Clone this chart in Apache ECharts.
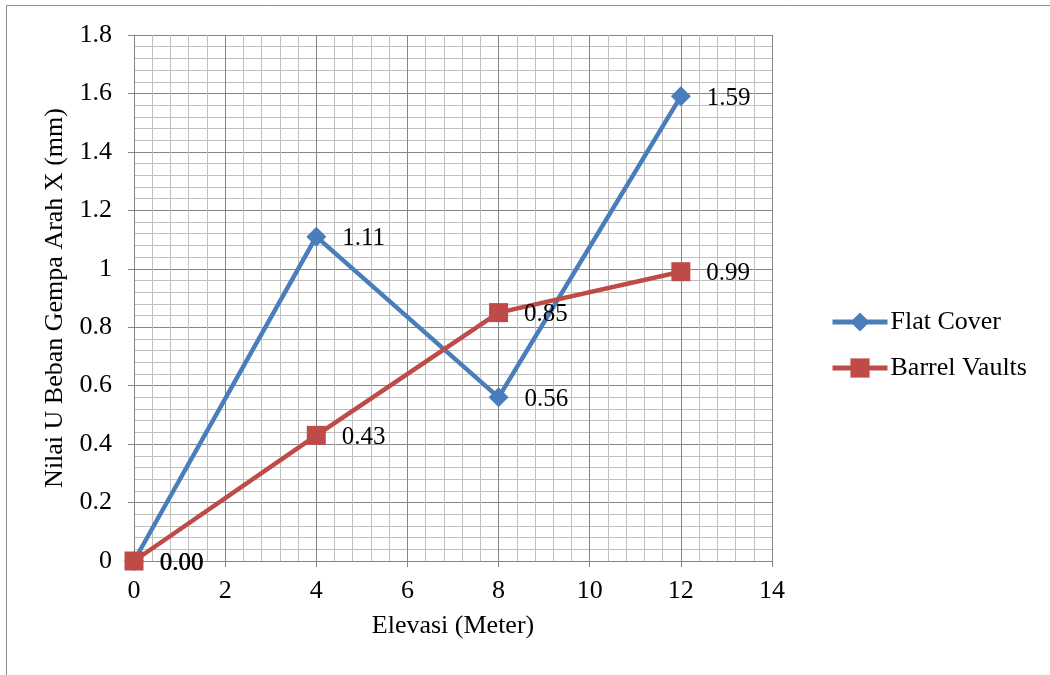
<!DOCTYPE html>
<html>
<head>
<meta charset="utf-8">
<script src="https://cdn.jsdelivr.net/npm/echarts@6/dist/echarts.min.js"></script>
<style>
  html, body { margin: 0; padding: 0; background: #fff; }
  #chart { width: 1050px; height: 675px; }
</style>
</head>
<body>
<div id="chart"></div>
<script>
// Elevation (m) and lateral displacement under X-direction seismic load (mm)
const elevations = [0, 4, 8, 12];
const flatCover = [0.00, 1.11, 0.56, 1.59];
const barrelVaults = [0.00, 0.43, 0.85, 0.99];
const seriesNames = ['Flat Cover', 'Barrel Vaults'];

const font = 'Liberation Serif, Times New Roman, serif';
const pairs = (xs, ys) => xs.map((x, i) => [x, ys[i]]);

const valueLabel = {
  show: true, position: 'right', distance: 16, offset: [0, 2],
  fontFamily: font, fontSize: 25, color: '#000',
  formatter: p => p.value[1].toFixed(2)
};

const chart = echarts.init(document.getElementById('chart'));
chart.setOption({
  animation: false,
  backgroundColor: '#ffffff',
  textStyle: { fontFamily: font },
  graphic: [{
    type: 'rect',
    shape: { x: 6.5, y: 5.5, width: 1100, height: 700 },
    style: { fill: 'none', stroke: '#8c8c8c', lineWidth: 1 },
    silent: true
  }],
  grid: { left: 134, right: 278, top: 35, bottom: 114 },
  legend: {
    orient: 'vertical',
    left: 825,
    top: 304,
    itemWidth: 55,
    itemHeight: 24,
    itemGap: 20,
    lineStyle: { width: 5 },
    textStyle: { fontFamily: font, fontSize: 26, color: '#000', padding: [0, 0, 0, -2] },
    data: seriesNames
  },
  xAxis: {
    type: 'value',
    min: 0, max: 14, interval: 2,
    name: 'Elevasi (Meter)',
    nameLocation: 'middle',
    nameGap: 52,
    nameTextStyle: { fontFamily: font, fontSize: 26, color: '#000' },
    axisLine: { onZero: false, lineStyle: { color: '#868686', width: 1 } },
    axisTick: { show: true, length: 6, lineStyle: { color: '#868686' } },
    axisLabel: { fontFamily: font, fontSize: 26, color: '#000', margin: 17 },
    splitLine: { show: true, lineStyle: { color: '#868686', width: 1 } },
    minorTick: { show: false, splitNumber: 5 },
    minorSplitLine: { show: true, lineStyle: { color: '#bfbfbf', width: 1 } }
  },
  yAxis: {
    type: 'value',
    min: 0, max: 1.8, interval: 0.2,
    name: 'Nilai U Beban Gempa Arah X (mm)',
    nameLocation: 'middle',
    nameGap: 66,
    nameTextStyle: { fontFamily: font, fontSize: 26, color: '#000' },
    axisLine: { show: true, lineStyle: { color: '#868686', width: 1 } },
    axisTick: { show: true, length: 6, lineStyle: { color: '#868686' } },
    axisLabel: { fontFamily: font, fontSize: 26, color: '#000', margin: 22 },
    splitLine: { show: true, lineStyle: { color: '#868686', width: 1 } },
    minorTick: { show: false, splitNumber: 5 },
    minorSplitLine: { show: true, lineStyle: { color: '#bfbfbf', width: 1 } }
  },
  series: [
    {
      name: seriesNames[0],
      type: 'line',
      data: pairs(elevations, flatCover),
      symbol: 'diamond',
      symbolSize: 20,
      lineStyle: { color: '#4a7ebb', width: 4.5 },
      itemStyle: { color: '#4a7ebb' },
      label: valueLabel,
      z: 3
    },
    {
      name: seriesNames[1],
      type: 'line',
      data: pairs(elevations, barrelVaults),
      symbol: 'rect',
      symbolSize: 19,
      lineStyle: { color: '#be4b48', width: 4.5 },
      itemStyle: { color: '#be4b48' },
      label: valueLabel,
      z: 4
    }
  ]
});
</script>
</body>
</html>
